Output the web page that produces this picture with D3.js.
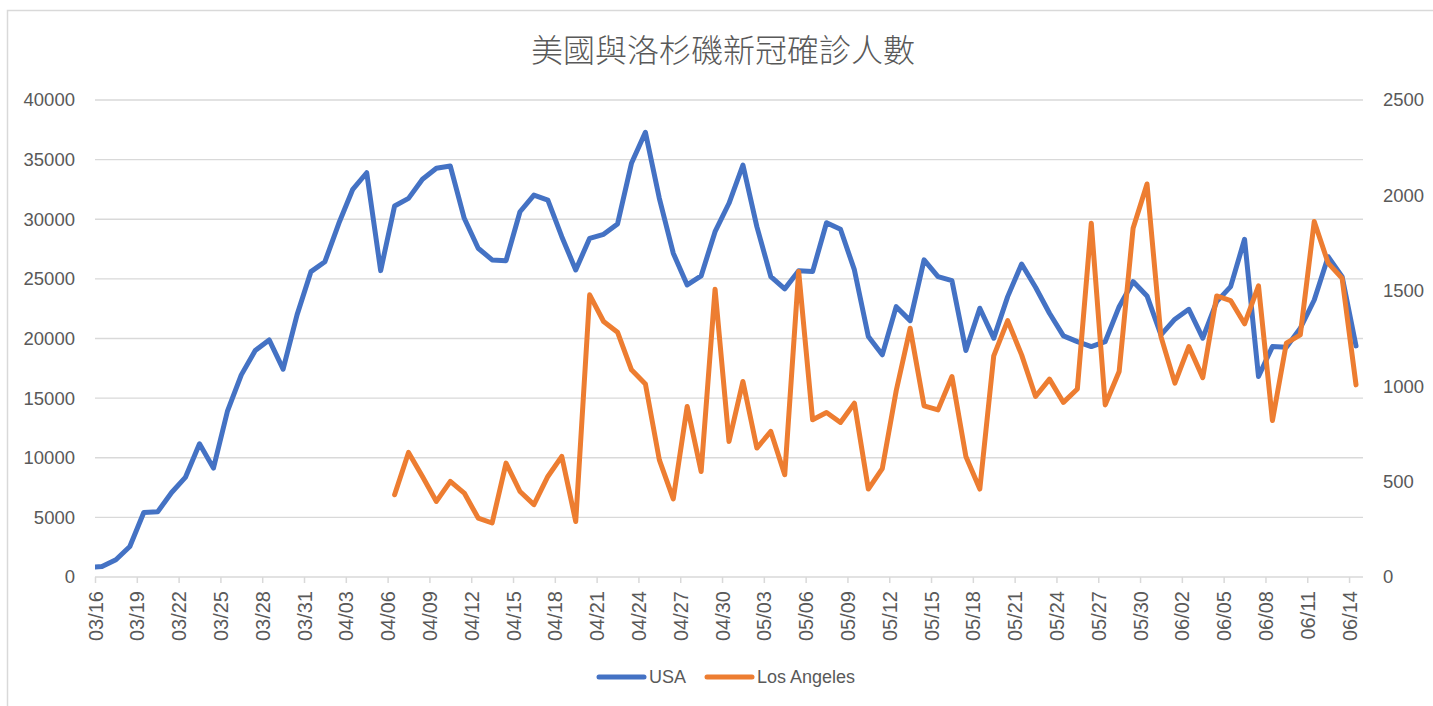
<!DOCTYPE html>
<html>
<head>
<meta charset="utf-8">
<script src="https://cdn.jsdelivr.net/npm/d3@7"></script>
<style>
  body { margin: 0; background: #fff; }
  text { font-family: "Liberation Sans", "Noto Sans", sans-serif; fill: #595959; }
</style>
</head>
<body>
<svg id="chart" width="1433" height="706"></svg>
<script>
// chart title and series names
const title = "美國與洛杉磯新冠確診人數";
const seriesNames = ["USA", "Los Angeles"];

// first day of the USA series (03/15, partly hidden behind the axis), and the visible axis window
const usaStart = "2020-03-15";
const laStart = "2020-04-06";
const axisStart = "2020-03-16";
const axisEnd = "2020-06-15";

// USA daily new cases, 03/15 .. 06/14
const usa = [
    780, 890, 1450, 2560, 5410, 5470, 7090, 8380, 11170, 9130,
    13880, 16950, 18990, 19880, 17430, 21980, 25610, 26440, 29660, 32510,
    33900, 25690, 31110, 31750, 33350, 34270, 34460, 30080, 27570, 26590,
    26530, 30630, 32030, 31610, 28540, 25750, 28400, 28740, 29600, 34690,
    37290, 31760, 27150, 24490, 25250, 28960, 31340, 34550, 29380, 25190,
    24160, 25690, 25610, 29710, 29160, 25750, 20160, 18630, 22670, 21500,
    26590, 25190, 24850, 18990, 22540, 20030, 23510, 26250, 24300, 22120,
    20220, 19740, 19320, 19740, 22670, 24770, 23570, 20300, 21620, 22450,
    20030, 23090, 24350, 28320, 16810, 19320, 19270, 20860, 23230, 26860,
    25190, 19380
];

// Los Angeles daily new cases, 04/06 .. 06/14
const la = [
    431, 653, 527, 396, 501, 440, 309, 283, 597, 448,
    379, 527, 632, 291, 1479, 1339, 1283, 1086, 1012, 614,
    409, 894, 553, 1508, 710, 1025, 676, 763, 536, 1601,
    824, 862, 810, 911, 461, 568, 976, 1304, 897, 876,
    1051, 632, 461, 1159, 1344, 1164, 946, 1037, 915, 985,
    1854, 902, 1077, 1828, 2060, 1260, 1016, 1208, 1045, 1473,
    1449, 1327, 1526, 820, 1226, 1269, 1863, 1645, 1566, 1007
];

const leftTicks = [0, 5000, 10000, 15000, 20000, 25000, 30000, 35000, 40000];
const rightTicks = [0, 500, 1000, 1500, 2000, 2500];
const tickEveryDays = 3;

const colors = ["#4472C4", "#ED7D31"];

const svg = d3.select("#chart");
const margin = {top: 100, right: 70, bottom: 129, left: 95};
const width = +svg.attr("width") - margin.left - margin.right,
    height = +svg.attr("height") - margin.top - margin.bottom;

// outer chart frame (only the left/top edges show in the picture)
svg.append("rect")
    .attr("x", 7.5).attr("y", 10.5)
    .attr("width", 1440).attr("height", 720)
    .attr("fill", "none")
    .attr("stroke", "#d9d9d9")
    .attr("stroke-width", 1.5);

svg.append("text")
    .attr("x", 723)
    .attr("y", 62)
    .attr("text-anchor", "middle")
    .style("font-family", "'Noto Sans CJK TC', 'Noto Sans CJK SC', sans-serif")
    .style("font-size", "32px")
    .style("font-weight", 300)
    .text(title);

const g = svg.append("g").attr("transform", "translate(" + margin.left + "," + margin.top + ")");

const parse = d3.utcParse("%Y-%m-%d");
const x = d3.scaleUtc()
    .domain([parse(axisStart), parse(axisEnd)])
    .range([0, width]);

const yL = d3.scaleLinear().domain([0, 40000]).range([height, 0]);
const yR = d3.scaleLinear().domain([0, 2500]).range([height, 0]);

// points sit in the middle of each day slot
const dayPoints = (start, values) => values.map((v, i) => {
    let d = d3.utcDay.offset(parse(start), i);
    return {date: d3.utcHour.offset(d, 12), value: v};
});

// gridlines
g.append("g")
    .selectAll("line")
    .data(leftTicks.slice(1))
    .join("line")
    .attr("x1", 0).attr("x2", width)
    .attr("y1", d => yL(d)).attr("y2", d => yL(d))
    .attr("stroke", "#d9d9d9")
    .attr("stroke-width", 1.3);

// left axis
g.append("g")
    .call(d3.axisLeft(yL).tickValues(leftTicks).tickSize(0).tickPadding(20).tickFormat(d3.format("d")))
    .call(a => a.select(".domain").remove())
    .selectAll("text")
    .style("font-size", "18.5px")
    .attr("fill", "#595959");

// right axis
g.append("g")
    .attr("transform", "translate(" + width + ",0)")
    .call(d3.axisRight(yR).tickValues(rightTicks).tickSize(0).tickPadding(20).tickFormat(d3.format("d")))
    .call(a => a.select(".domain").remove())
    .selectAll("text")
    .style("font-size", "18.5px")
    .attr("fill", "#595959");

// bottom axis
const xTicks = d3.utcDay.range(parse(axisStart), parse(axisEnd), tickEveryDays);
const xAxis = g.append("g")
    .attr("transform", "translate(0," + height + ")")
    .call(d3.axisBottom(x).tickValues(xTicks).tickSize(6).tickFormat(d3.utcFormat("%m/%d")));
xAxis.select(".domain")
    .attr("stroke", "#d9d9d9")
    .attr("stroke-width", 1.5)
    .attr("d", "M0,0H" + width);
xAxis.selectAll(".tick line").attr("stroke", "#d9d9d9").attr("stroke-width", 1.5);
xAxis.selectAll(".tick text")
    .style("font-size", "20px")
    .attr("fill", "#595959")
    .attr("text-anchor", "end")
    .attr("transform", "rotate(-90)")
    .attr("x", -14)
    .attr("y", 0)
    .attr("dy", "0.35em");

// clip to the plot area
svg.append("clipPath").attr("id", "plot-clip")
    .append("rect").attr("x", 0).attr("y", -10).attr("width", width).attr("height", height + 20);

const lineL = d3.line().x(d => x(d.date)).y(d => yL(d.value));
const lineR = d3.line().x(d => x(d.date)).y(d => yR(d.value));

const lines = g.append("g").attr("clip-path", "url(#plot-clip)");

lines.append("path")
    .datum(dayPoints(usaStart, usa))
    .attr("fill", "none")
    .attr("stroke", colors[0])
    .attr("stroke-width", 5)
    .attr("stroke-linejoin", "round")
    .attr("stroke-linecap", "round")
    .attr("d", lineL);

lines.append("path")
    .datum(dayPoints(laStart, la))
    .attr("fill", "none")
    .attr("stroke", colors[1])
    .attr("stroke-width", 5)
    .attr("stroke-linejoin", "round")
    .attr("stroke-linecap", "round")
    .attr("d", lineR);

// legend
const legend = svg.append("g").attr("transform", "translate(597,677)");
const legendX = [0, 108];
seriesNames.forEach((name, i) => {
    let item = legend.append("g").attr("transform", "translate(" + legendX[i] + ",0)");
    item.append("line")
        .attr("x1", 2).attr("x2", 47)
        .attr("stroke", colors[i])
        .attr("stroke-width", 5)
        .attr("stroke-linecap", "round");
    item.append("text")
        .attr("x", 52)
        .attr("dy", "0.35em")
        .style("font-size", "18px")
        .text(name);
});
</script>
</body>
</html>
